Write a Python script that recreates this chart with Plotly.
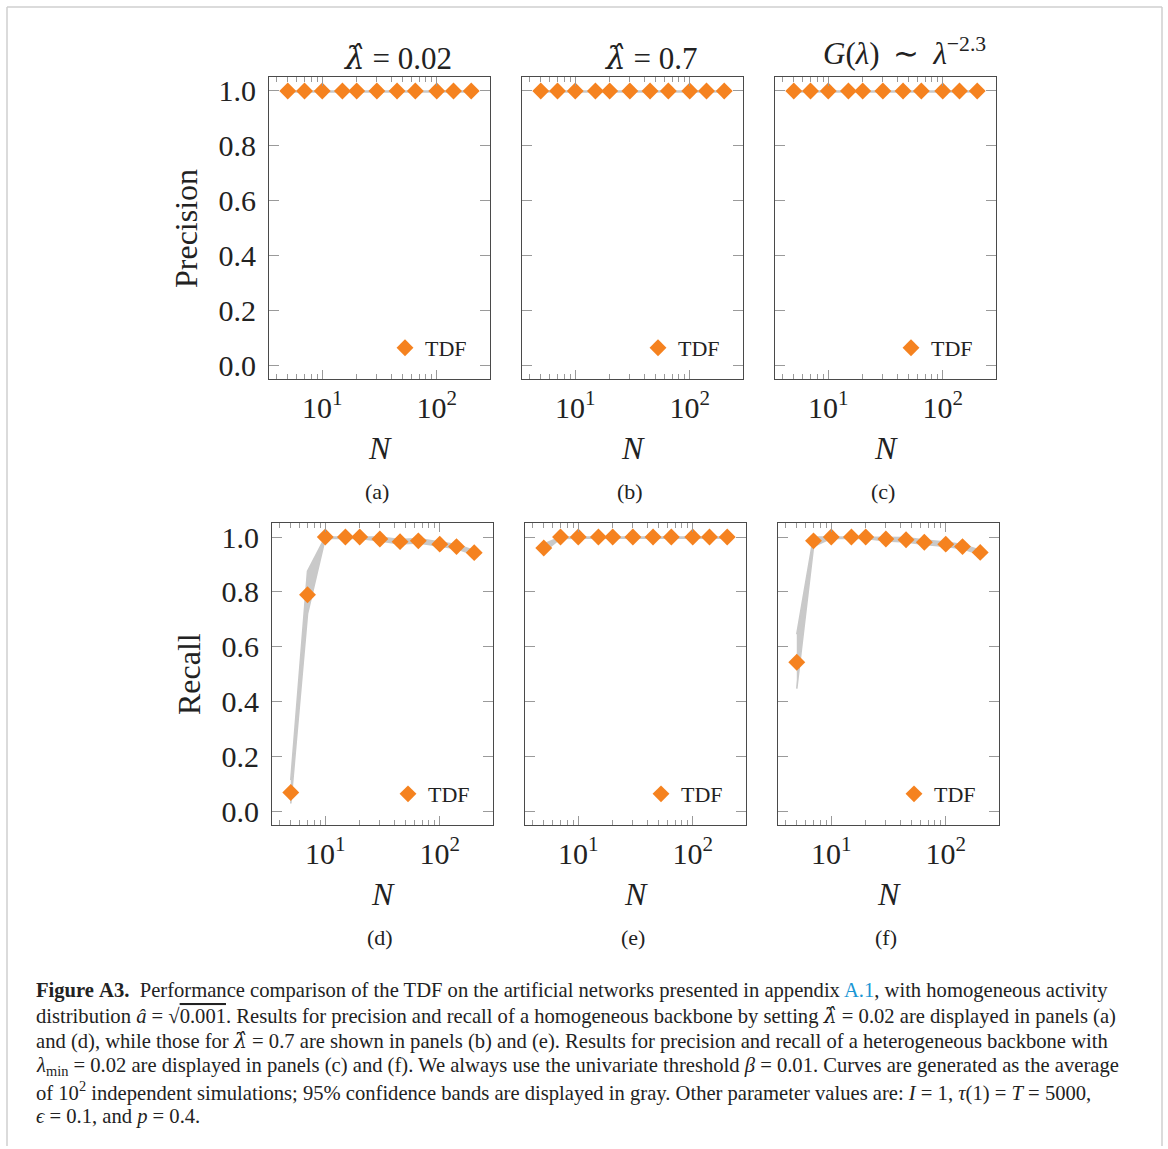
import plotly.graph_objects as go

W, H = 1168, 1149

# ---------------- data ----------------
N = [5, 7, 10, 15, 20, 30, 45, 65, 100, 140, 200]

prec_a = [1.0] * 11
prec_a_lo = [0.996] * 11
prec_a_hi = [1.0] * 11
prec_b = [1.0] * 11
prec_b_lo = [0.996] * 11
prec_b_hi = [1.0] * 11
prec_c = [1.0] * 11
prec_c_lo = [0.996] * 11
prec_c_hi = [1.0] * 11

rec_d = [0.07, 0.79, 1.0, 1.0, 1.0, 0.993, 0.983, 0.986, 0.974, 0.965, 0.943]
rec_d_lo = [0.03, 0.72, 0.995, 0.995, 0.995, 0.986, 0.975, 0.978, 0.966, 0.957, 0.935]
rec_d_hi = [0.115, 0.875, 1.0, 1.0, 1.0, 1.0, 0.991, 0.994, 0.982, 0.973, 0.951]

rec_e = [0.96, 1.0, 1.0, 1.0, 1.0, 1.0, 1.0, 1.0, 1.0, 1.0, 1.0]
rec_e_lo = [0.945, 0.995, 0.996, 0.996, 0.996, 0.996, 0.996, 0.996, 0.996, 0.996, 0.996]
rec_e_hi = [0.975, 1.0, 1.0, 1.0, 1.0, 1.0, 1.0, 1.0, 1.0, 1.0, 1.0]

rec_f = [0.544, 0.986, 1.0, 1.0, 1.0, 0.993, 0.99, 0.981, 0.974, 0.965, 0.944]
rec_f_lo = [0.448, 0.965, 0.995, 0.995, 0.995, 0.986, 0.982, 0.973, 0.966, 0.957, 0.936]
rec_f_hi = [0.646, 1.0, 1.0, 1.0, 1.0, 1.0, 0.998, 0.989, 0.982, 0.973, 0.952]

LAMHAT = "<span style=\"font-family:'DejaVu Serif'\"><i>λ̂</i></span>"
panel_titles = [LAMHAT + " = 0.02", LAMHAT + " = 0.7",
                "<i>G</i>(<i>λ</i>)\u2009 ∼ \u2009<i>λ</i><sup>−2.3</sup>"]
panel_letters = ["(a)", "(b)", "(c)", "(d)", "(e)", "(f)"]
y_tick_vals = [0.0, 0.2, 0.4, 0.6, 0.8, 1.0]
y_tick_text = ["0.0", "0.2", "0.4", "0.6", "0.8", "1.0"]
x_tick_vals = [10, 100]
x_tick_text = ["10<sup>1</sup>", "10<sup>2</sup>"]
x_minor_vals = [4, 5, 6, 7, 8, 9, 20, 30, 40, 50, 60, 70, 80, 90]
series_name = "TDF"

panels = [
    (prec_a, prec_a_lo, prec_a_hi),
    (prec_b, prec_b_lo, prec_b_hi),
    (prec_c, prec_c_lo, prec_c_hi),
    (rec_d, rec_d_lo, rec_d_hi),
    (rec_e, rec_e_lo, rec_e_hi),
    (rec_f, rec_f_lo, rec_f_hi),
]

# ---------------- layout geometry (pixels) ----------------
frames = [  # (left, right, top, bottom)
    (269, 490, 75, 378.5),
    (522, 743, 75, 378.5),
    (775, 996, 75, 378.5),
    (272, 493, 523, 826.5),
    (525, 746, 523, 826.5),
    (778, 999, 523, 826.5),
]

FONT = "Liberation Serif"
TXT = "#222222"
ORANGE = "#f5821f"
BAND = "#c9c9c9"
FRAME = "#4a4a4a"
TICK = "#9a9a9a"


def px(x):
    return x / W


def py(y):
    return 1 - y / H


fig = go.Figure()
layout = {}

for i, ((m, lo, hi), (l, r, t, b)) in enumerate(zip(panels, frames)):
    k = "" if i == 0 else str(i + 1)
    xa, ya = "x" + k, "y" + k
    lg = "legend" + k
    fig.add_trace(go.Scatter(x=N, y=lo, mode="lines", line=dict(color=BAND, width=1.6),
                             xaxis=xa, yaxis=ya, showlegend=False, hoverinfo="skip"))
    fig.add_trace(go.Scatter(x=N, y=hi, mode="lines", line=dict(color=BAND, width=1.6),
                             fill="tonexty", fillcolor=BAND,
                             xaxis=xa, yaxis=ya, showlegend=False, hoverinfo="skip"))
    fig.add_trace(go.Scatter(x=N, y=m, mode="markers", name=series_name,
                             marker=dict(symbol="diamond", size=13, color=ORANGE, line=dict(width=0)),
                             xaxis=xa, yaxis=ya, legend=lg, showlegend=True))
    layout["xaxis" + k] = dict(
        type="log", range=[0.535, 2.465], domain=[px(l), px(r)], anchor=ya,
        showline=True, linecolor=FRAME, linewidth=1.2, mirror="allticks",
        ticks="inside", ticklen=9, tickwidth=1, tickcolor=TICK,
        tickvals=x_tick_vals, ticktext=x_tick_text, ticklabelstandoff=2,
        tickfont=dict(family=FONT, size=30, color=TXT),
        minor=dict(ticks="inside", tickvals=x_minor_vals, ticklen=5, tickcolor=TICK, tickwidth=1, showgrid=False),
        showgrid=False, zeroline=False,
    )
    layout["yaxis" + k] = dict(
        range=[-0.048, 1.052], domain=[py(b), py(t)], anchor=xa,
        showline=True, linecolor=FRAME, linewidth=1.2, mirror="allticks",
        ticks="inside", ticklen=10, tickwidth=1, tickcolor=TICK,
        tickvals=y_tick_vals, ticktext=y_tick_text, ticklabelstandoff=6,
        showticklabels=(i % 3 == 0),
        tickfont=dict(family=FONT, size=30, color=TXT),
        showgrid=False, zeroline=False,
    )
    layout[lg] = dict(
        x=px(r - 18), y=py(b - 31), xanchor="right", yanchor="middle",
        bgcolor="rgba(0,0,0,0)", borderwidth=0,
        font=dict(family=FONT, size=22, color=TXT),
        itemwidth=30, tracegroupgap=0,
    )

annotations = []
# titles
for j, ttl in enumerate(panel_titles):
    l, r, t, b = frames[j]
    annotations.append(dict(text=ttl, x=px((l + r) / 2 + 18 + (1 if j == 2 else 0)), y=py(56 if j < 2 else 50),
                            xref="paper", yref="paper", xanchor="center", yanchor="middle",
                            showarrow=False, font=dict(family=FONT, size=31, color=TXT)))
# N labels and panel letters
for i, (l, r, t, b) in enumerate(frames):
    cx = (l + r) / 2
    annotations.append(dict(text="<i>N</i>", x=px(cx), y=py(b + 69), xref="paper", yref="paper",
                            xanchor="center", yanchor="middle", showarrow=False,
                            font=dict(family=FONT, size=32, color=TXT)))
    annotations.append(dict(text=panel_letters[i], x=px(cx - 3), y=py(b + 113), xref="paper", yref="paper",
                            xanchor="center", yanchor="middle", showarrow=False,
                            font=dict(family=FONT, size=22, color=TXT)))
# y labels
annotations.append(dict(text="Precision", x=px(186), y=py(228), xref="paper", yref="paper",
                        xanchor="center", yanchor="middle", textangle=-90, showarrow=False,
                        font=dict(family=FONT, size=32, color=TXT)))
annotations.append(dict(text="Recall", x=px(189), y=py(675), xref="paper", yref="paper",
                        xanchor="center", yanchor="middle", textangle=-90, showarrow=False,
                        font=dict(family=FONT, size=32, color=TXT)))

# caption
NB = "\u00a0"
CAP_LAMHAT = "<span style=\"font-family:'DejaVu Serif'\"><i>λ̂</i></span>"
caption_lines = [
    "<b>Figure" + NB + "A3.</b>" + NB + NB + "Performance comparison of the TDF on the artificial networks presented in appendix "
    "<span style='color:#1a96d4'>A.1</span>, with homogeneous activity",
    "distribution <i>â</i> = √<span style='text-decoration:overline'>0.001</span>. Results for precision and recall of a homogeneous backbone by setting "
    + CAP_LAMHAT + " = 0.02 are displayed in panels (a)",
    "and (d), while those for " + CAP_LAMHAT + " = 0.7 are shown in panels (b) and (e). Results for precision and recall of a heterogeneous backbone with",
    "<i>λ</i><sub>min</sub> = 0.02 are displayed in panels (c) and (f). We always use the univariate threshold <i>β</i> = 0.01. Curves are generated as the average",
    "of 10<sup>2</sup> independent simulations; 95% confidence bands are displayed in gray. Other parameter values are: <i>I</i> = 1, <i>τ</i>(1) = <i>T</i> = 5000,",
    "<i>ϵ</i> = 0.1, and <i>p</i> = 0.4.",
]
cap_y = [993, 1018, 1043.5, 1069, 1094, 1119]
for txt, yy in zip(caption_lines, cap_y):
    annotations.append(dict(text=txt, x=px(34), y=py(yy), xref="paper", yref="paper",
                            xanchor="left", yanchor="middle", showarrow=False, align="left",
                            font=dict(family=FONT, size=20.6, color=TXT)))

shapes = [
    dict(type="line", xref="paper", yref="paper", x0=px(7), x1=px(7), y0=0, y1=py(5),
         line=dict(color="#cfcfcf", width=1.5)),
    dict(type="line", xref="paper", yref="paper", x0=px(7), x1=px(1162), y0=py(5), y1=py(5),
         line=dict(color="#cfcfcf", width=1.5)),
    dict(type="line", xref="paper", yref="paper", x0=px(1162), x1=px(1162), y0=0, y1=py(5),
         line=dict(color="#cfcfcf", width=1.5)),
]

fig.update_layout(
    width=W, height=H, margin=dict(l=0, r=0, t=0, b=0),
    paper_bgcolor="white", plot_bgcolor="white",
    annotations=annotations, shapes=shapes,
    font=dict(family=FONT, color=TXT),
    **layout,
)

fig.write_html("out.html")
